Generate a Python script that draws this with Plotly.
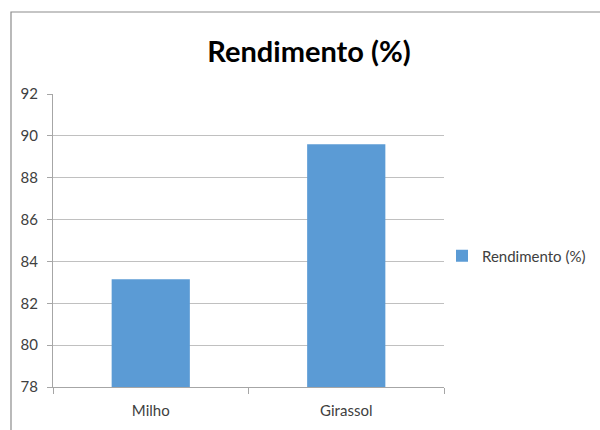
import plotly.graph_objects as go

categories = ["Milho", "Girassol"]
rendimento = [83.15, 89.6]
series_name = "Rendimento (%)"
y_ticks = [78, 80, 82, 84, 86, 88, 90, 92]

L, R, T, B = 53, 156, 94, 43
W, H = 600, 430
pw, ph = W - L - R, H - T - B

def px_x(p):
    return (p - L) / pw

def px_y(p):
    return (H - B - p) / ph

fig = go.Figure()
fig.add_trace(go.Bar(
    x=categories, y=rendimento, name=series_name,
    marker=dict(color="#5B9BD5", line=dict(width=0)),
    width=0.4, showlegend=True,
))

fig.update_layout(
    width=W, height=H,
    margin=dict(l=L, r=R, t=T, b=B, autoexpand=False),
    paper_bgcolor="white", plot_bgcolor="white",
    font=dict(family="Lato, Open Sans, sans-serif", size=14, color="#404040"),
    title=dict(text="<b>Rendimento (%)</b>", x=px_x(309), xref="paper", xanchor="center",
               y=1 - 52 / H, yanchor="middle",
               font=dict(size=29, color="#000000", family="Lato, Open Sans, sans-serif")),
    showlegend=True,
    legend=dict(x=px_x(442), xanchor="left", y=px_y(256), yanchor="middle",
                font=dict(size=15, color="#404040"), bgcolor="rgba(0,0,0,0)",
                itemwidth=30),
    bargap=0.6,
)
fig.update_xaxes(
    type="category", showline=True, linecolor="#A6A6A6", linewidth=1,
    ticks="outside", tickson="boundaries", ticklen=6, tickcolor="#A6A6A6",
    showgrid=False, tickfont=dict(size=15, color="#404040"), ticklabelstandoff=10,
)
fig.update_yaxes(
    range=[78, 92], tickvals=y_ticks, showline=True, linecolor="#A6A6A6", linewidth=1,
    ticks="outside", ticklen=5, tickcolor="#A6A6A6",
    showgrid=True, gridcolor="#C0C0C0", gridwidth=1, zeroline=False,
    tickfont=dict(size=15, color="#404040"), ticklabelstandoff=6,
)
fig.add_shape(type="path", xref="paper", yref="paper",
              path=f"M {px_x(640)},{px_y(12)} L {px_x(11)},{px_y(12)} L {px_x(11)},{px_y(470)}",
              line=dict(color="#8C8C8C", width=1.2), layer="below")

fig.write_html("out.html")
